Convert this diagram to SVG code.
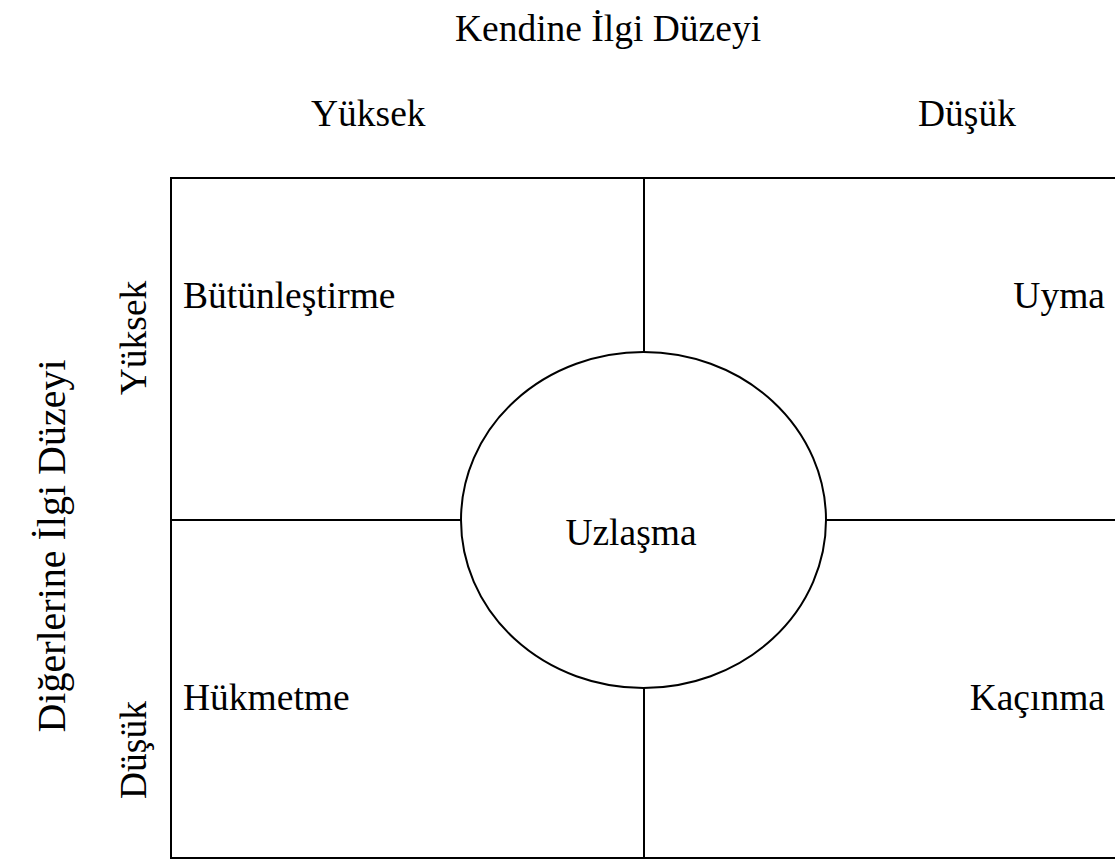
<svg xmlns="http://www.w3.org/2000/svg" width="1115" height="861" viewBox="0 0 1115 861">
<style>
text{font-family:"Liberation Serif","Times New Roman",serif;font-size:37.5px;fill:#000}
.ln{fill:none;stroke:#000;stroke-width:2}
.m{text-anchor:middle}
.e{text-anchor:end}
</style>
<rect width="1115" height="861" fill="#fff"/>
<g id="axis-labels">
<text class="m" x="608" y="41">Kendine İlgi Düzeyi</text>
<text x="311" y="126">Yüksek</text>
<text x="918" y="126">Düşük</text>
<text class="m" transform="translate(146,338) rotate(-90)">Yüksek</text>
<text class="m" transform="translate(146,750) rotate(-90)">Düşük</text>
<text class="m" style="font-size:40px" transform="translate(65,546) rotate(-90)">Diğerlerine İlgi Düzeyi</text>
</g>
<g id="frame">
<path class="ln" d="M1115,178 H171 V858 H1115"/>
</g>
<g id="connectors">
<line class="ln" x1="644" y1="178" x2="644" y2="352"/>
<line class="ln" x1="644" y1="688" x2="644" y2="858"/>
<line class="ln" x1="171" y1="520" x2="461" y2="520"/>
<line class="ln" x1="826" y1="520" x2="1115" y2="520"/>
</g>
<g id="q-butunlestirme"><text x="183" y="308">Bütünleştirme</text></g>
<g id="q-uyma"><text class="e" x="1105" y="308">Uyma</text></g>
<g id="q-hukmetme"><text x="183" y="710">Hükmetme</text></g>
<g id="q-kacinma"><text class="e" x="1105" y="710">Kaçınma</text></g>
<g id="uzlasma">
<ellipse class="ln" cx="643.5" cy="520" rx="182.5" ry="168"/>
<text class="m" x="631" y="545">Uzlaşma</text>
</g>
</svg>
